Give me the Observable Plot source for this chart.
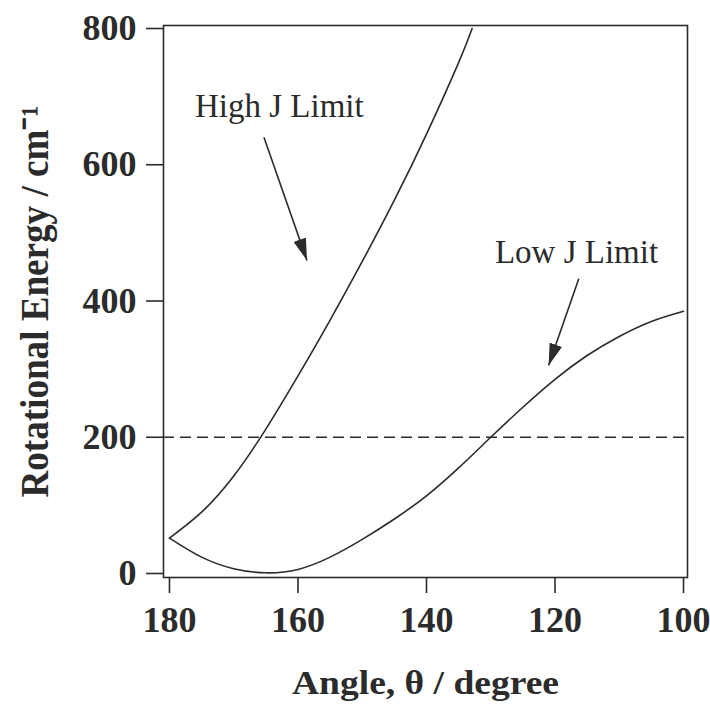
<!DOCTYPE html>
<html><head><meta charset="utf-8">
<script src="https://cdn.jsdelivr.net/npm/d3@7"></script>
<script src="https://cdn.jsdelivr.net/npm/@observablehq/plot@0.6"></script>
<style>body{margin:0;background:#fff}</style>
</head><body><div id="chart"></div>
<script>
// High J limit curve
const highAngles = [180, 175, 170, 165, 160, 155, 150, 145, 140, 135, 132.9];
const highJ      = [52, 90, 143, 212, 290, 372, 458, 548, 645, 750, 800];
// Low J limit curve
const lowAngles = [180, 175, 170, 165, 160, 155, 150, 145, 140, 135, 130, 125, 120, 115, 110, 105, 100];
const lowJ      = [52, 24, 7, 1, 6, 24, 50, 80, 114, 155, 200, 244, 285, 320, 348, 370, 385];
// dashed reference energy
const refEnergy = [200];
// ticks
const xTicks = [180, 160, 140, 120, 100];
const yTicks = [0, 200, 400, 600, 800];
// annotations
const labels = ["High J Limit", "Low J Limit"];
const labelAngle = [162.9, 116.65];
const labelEnergy = [685, 470.6];
const arrowFromAngle = [165.3, 116.3];
const arrowFromEnergy = [640.5, 432.6];
const arrowToAngle = [158.6, 121.0];
const arrowToEnergy = [459.5, 305.3];

const xTitle = "Angle, θ / degree";
const yTitle = "Rotational Energy / cm⁻¹";

const high = highAngles.map((a, i) => ({a, e: highJ[i]}));
const low = lowAngles.map((a, i) => ({a, e: lowJ[i]}));
const notes = labels.map((t, i) => ({t, a: labelAngle[i], e: labelEnergy[i]}));
const arrows = arrowFromAngle.map((a1, i) => ({a1, e1: arrowFromEnergy[i], a2: arrowToAngle[i], e2: arrowToEnergy[i]}));

const ink = "#2b2b2b";

function headMarker(color, context) {
  const doc = context.document;
  const ns = "http://www.w3.org/2000/svg";
  const m = doc.createElementNS(ns, "marker");
  m.setAttribute("viewBox", "-22 -6.5 22 13");
  m.setAttribute("markerWidth", "22");
  m.setAttribute("markerHeight", "13");
  m.setAttribute("markerUnits", "userSpaceOnUse");
  m.setAttribute("orient", "auto");
  m.setAttribute("refX", "0");
  m.setAttribute("refY", "0");
  const p = doc.createElementNS(ns, "path");
  p.setAttribute("d", "M-22,-6.5L0,0L-22,6.5Z");
  p.setAttribute("fill", color);
  p.setAttribute("stroke", "none");
  m.appendChild(p);
  return m;
}

const chart = Plot.plot({
  width: 710,
  height: 708,
  marginLeft: 163,
  marginRight: 23,
  marginTop: 25,
  marginBottom: 131,
  style: {fontFamily: "'Liberation Serif', serif", background: "#fff", color: ink},
  x: {domain: [180.93, 99.38], ticks: xTicks},
  y: {domain: [-5.87, 804.4], ticks: yTicks},
  marks: [
    Plot.frame({stroke: ink, strokeWidth: 1.6}),
    Plot.axisX(xTicks, {tickSize: 16, tickPadding: 13, fontSize: 36, fontWeight: "bold", stroke: ink, strokeWidth: 1.6, label: null}),
    Plot.axisY(yTicks, {tickSize: 17, tickPadding: 10, fontSize: 36, fontWeight: "bold", stroke: ink, strokeWidth: 1.6, label: null}),
    Plot.ruleY(refEnergy, {stroke: ink, strokeWidth: 1.6, strokeDasharray: "11,6"}),
    Plot.line(high, {x: "a", y: "e", stroke: ink, strokeWidth: 1.6, curve: "natural"}),
    Plot.line(low, {x: "a", y: "e", stroke: ink, strokeWidth: 1.6, curve: "natural"}),
    Plot.link(arrows, {x1: "a1", y1: "e1", x2: "a2", y2: "e2", stroke: ink, strokeWidth: 1.6, markerEnd: headMarker}),
    Plot.text(notes, {x: "a", y: "e", text: "t", fontSize: 33, fill: ink, textAnchor: "middle", lineAnchor: "middle"}),
    Plot.text([xTitle], {frameAnchor: "bottom", text: d => d, dy: 106, fontSize: 33, fontWeight: "bold", fill: ink, textAnchor: "middle", lineAnchor: "middle"}),
    Plot.text([yTitle], {frameAnchor: "left", text: d => d, dx: -128, rotate: -90, fontSize: 40, fontWeight: "bold", fill: ink, textAnchor: "middle", lineAnchor: "middle"})
  ]
});

for (const t of chart.querySelectorAll("text")) {
  if (t.textContent === xTitle) { t.setAttribute("textLength", "267"); t.setAttribute("lengthAdjust", "spacingAndGlyphs"); }
  if (t.textContent === yTitle) { t.setAttribute("textLength", "392"); t.setAttribute("lengthAdjust", "spacingAndGlyphs"); }
}
document.getElementById("chart").appendChild(chart);
</script>
</body></html>
